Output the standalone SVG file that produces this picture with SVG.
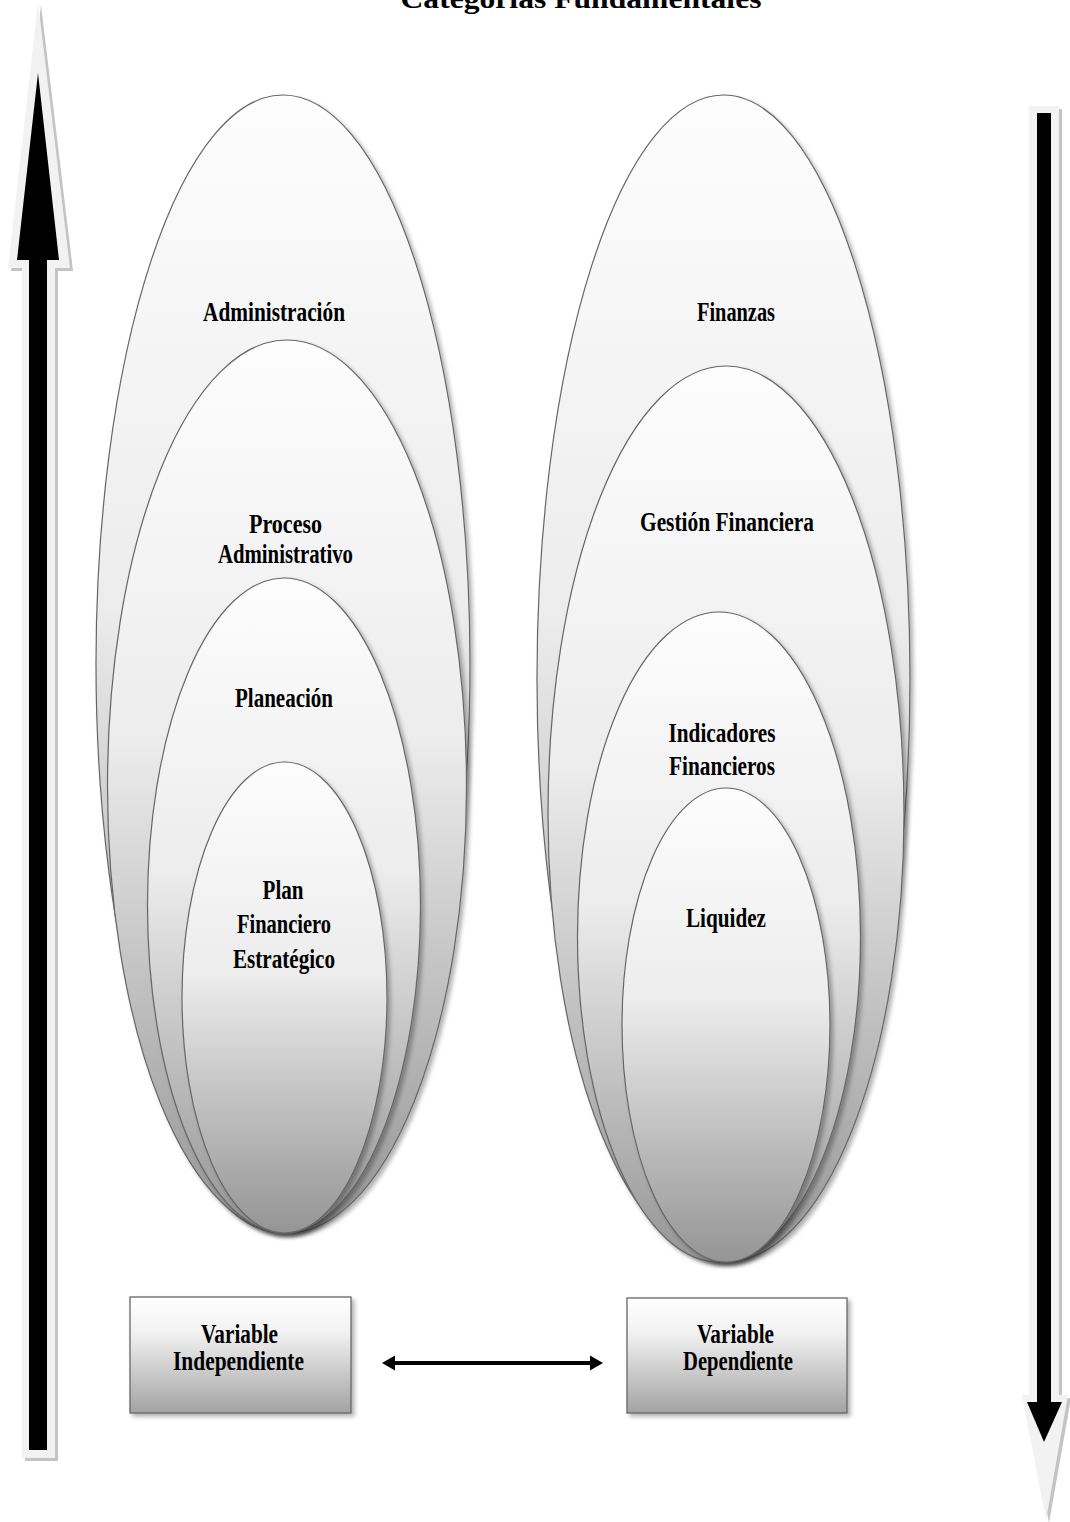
<svg xmlns="http://www.w3.org/2000/svg" width="1070" height="1522" viewBox="0 0 1070 1522">
<style>
.lbl{font-family:"Liberation Serif","Times New Roman",serif;font-weight:bold;font-size:27px;fill:#000;text-anchor:middle}
.ell{fill:url(#gEll);stroke:#666;stroke-width:1.2;filter:url(#sh)}
.box{fill:url(#gBox);stroke:#666;stroke-width:1.3;filter:url(#sh)}
.arrOut{fill:#f2f2f2}
.arrSh{fill:#c4c4c4}
.arrIn{fill:#000}
</style>
<defs>
<linearGradient id="gEll" x1="0" y1="0" x2="0" y2="1">
<stop offset="0" stop-color="#fdfdfd"/>
<stop offset="0.45" stop-color="#ececec"/>
<stop offset="1" stop-color="#959595"/>
</linearGradient>
<linearGradient id="gBox" x1="0" y1="0" x2="0" y2="1">
<stop offset="0" stop-color="#ffffff"/>
<stop offset="0.3" stop-color="#f2f2f2"/>
<stop offset="1" stop-color="#a3a3a3"/>
</linearGradient>
<filter id="sh" x="-10%" y="-10%" width="125%" height="125%">
<feDropShadow dx="3" dy="3" stdDeviation="2" flood-color="#000" flood-opacity="0.3"/>
</filter>
</defs>
<rect width="1070" height="1522" fill="#fff"/>
<text class="lbl" x="581" y="8" font-size="30" textLength="361" lengthAdjust="spacingAndGlyphs">Categorías Fundamentales</text>
<g id="arrow-up">
<polygon class="arrSh" points="41,5 73,271 58,271 58,1461 25,1461 25,271 11,271"/>
<polygon class="arrOut" points="38,2 70,268 55,268 55,1458 22,1458 22,268 8,268"/>
<polygon class="arrIn" points="38,73 59,260 47,260 47,1450 29,1450 29,260 17,260"/>
</g>
<g id="arrow-down">
<polygon class="arrSh" points="1032,109 1062,109 1062,1398 1071,1398 1049,1523 1025,1398 1032,1398"/>
<polygon class="arrOut" points="1029,106 1059,106 1059,1395 1068,1395 1046,1520 1022,1395 1029,1395"/>
<polygon class="arrIn" points="1037,113 1051,113 1051,1402 1062,1402 1044,1442 1027,1402 1037,1402"/>
</g>
<g id="n-administracion"><ellipse class="ell" cx="283" cy="664" rx="187" ry="569"/><text class="lbl" x="274" y="321" textLength="142" lengthAdjust="spacingAndGlyphs">Administración</text></g>
<g id="n-proceso"><ellipse class="ell" cx="287" cy="786.5" rx="179.5" ry="446.5"/><text class="lbl" x="285.5" y="533" textLength="73" lengthAdjust="spacingAndGlyphs">Proceso</text><text class="lbl" x="285.5" y="563" textLength="135" lengthAdjust="spacingAndGlyphs">Administrativo</text></g>
<g id="n-planeacion"><ellipse class="ell" cx="284" cy="905.5" rx="136.5" ry="327.5"/><text class="lbl" x="284" y="707" textLength="98" lengthAdjust="spacingAndGlyphs">Planeación</text></g>
<g id="n-plan"><ellipse class="ell" cx="284.5" cy="997.5" rx="102.5" ry="235.5"/><text class="lbl" x="283" y="899" textLength="41" lengthAdjust="spacingAndGlyphs">Plan</text><text class="lbl" x="284" y="933" textLength="94" lengthAdjust="spacingAndGlyphs">Financiero</text><text class="lbl" x="284" y="968" textLength="102" lengthAdjust="spacingAndGlyphs">Estratégico</text></g>
<g id="n-finanzas"><ellipse class="ell" cx="723.5" cy="678.5" rx="186.5" ry="583.5"/><text class="lbl" x="736" y="321" textLength="78" lengthAdjust="spacingAndGlyphs">Finanzas</text></g>
<g id="n-gestion"><ellipse class="ell" cx="726" cy="814" rx="178" ry="448"/><text class="lbl" x="727" y="531" textLength="174" lengthAdjust="spacingAndGlyphs">Gestión Financiera</text></g>
<g id="n-indicadores"><ellipse class="ell" cx="719" cy="937" rx="141.5" ry="325"/><text class="lbl" x="722" y="742" textLength="107" lengthAdjust="spacingAndGlyphs">Indicadores</text><text class="lbl" x="722" y="775" textLength="106" lengthAdjust="spacingAndGlyphs">Financieros</text></g>
<g id="n-liquidez"><ellipse class="ell" cx="726" cy="1025" rx="104" ry="237"/><text class="lbl" x="726" y="927" textLength="80" lengthAdjust="spacingAndGlyphs">Liquidez</text></g>
<g id="n-var-indep"><rect class="box" x="130" y="1297" width="221" height="116"/><text class="lbl" x="239.5" y="1343" textLength="77" lengthAdjust="spacingAndGlyphs">Variable</text><text class="lbl" x="238.5" y="1370" textLength="131" lengthAdjust="spacingAndGlyphs">Independiente</text></g>
<g id="n-var-dep"><rect class="box" x="627" y="1298" width="220" height="115"/><text class="lbl" x="735.5" y="1343" textLength="77" lengthAdjust="spacingAndGlyphs">Variable</text><text class="lbl" x="738" y="1370" textLength="110" lengthAdjust="spacingAndGlyphs">Dependiente</text></g>
<g id="connectors">
<line x1="392" y1="1363" x2="593" y2="1363" stroke="#000" stroke-width="4"/>
<polygon points="382,1363 395,1355.5 395,1370.5" fill="#000"/>
<polygon points="603,1363 590,1355.5 590,1370.5" fill="#000"/>
</g>
</svg>
